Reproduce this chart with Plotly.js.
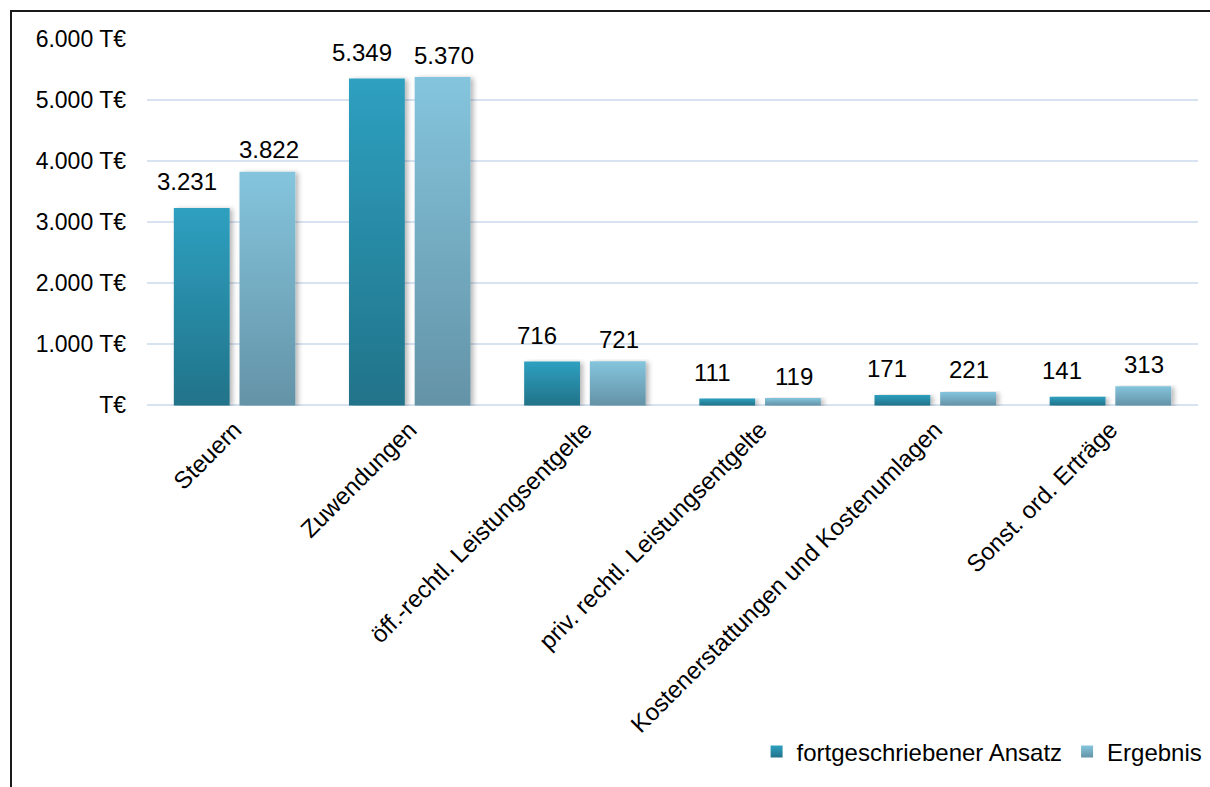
<!DOCTYPE html>
<html>
<head>
<meta charset="utf-8">
<script src="https://cdn.plot.ly/plotly-3.0.1.min.js"></script>
<style>
  html, body { margin: 0; padding: 0; background: #ffffff; }
  #wrap { position: relative; width: 1210px; height: 787px; overflow: hidden; }
  #chart { position: absolute; left: 0; top: 0; width: 1210px; height: 787px; }
  #frame { position: absolute; left: 10px; top: 10px; width: 1300px; height: 900px;
           border-left: 2px solid #1a1a1a; border-top: 2px solid #1a1a1a; pointer-events: none; }
</style>
</head>
<body>
<div id="wrap">
  <div id="chart"></div>
  <div id="frame"></div>
</div>
<script>
// ---- data ----
const categories = [
  'Steuern',
  'Zuwendungen',
  'öff.-rechtl. Leistungsentgelte',
  'priv. rechtl. Leistungsentgelte',
  'Kostenerstattungen und Kostenumlagen',
  'Sonst. ord. Erträge'
];
const seriesNames = ['fortgeschriebener Ansatz', 'Ergebnis'];
const ansatz   = [3231, 5349, 716, 111, 171, 141];
const ergebnis = [3822, 5370, 721, 119, 221, 313];
const tickVals = [0, 1000, 2000, 3000, 4000, 5000, 6000];
const tickText = ['T€', '1.000 T€', '2.000 T€', '3.000 T€', '4.000 T€', '5.000 T€', '6.000 T€'];

// ---- styling ----
const FONT = 'Liberation Sans, Arial, Helvetica, sans-serif';
const gradStops = [
  ['#2EA0C0', '#217389'],
  ['#84C5DD', '#6493A7']
];
const flatColors = ['#2888A4', '#73ADC3'];

function fmt(v) {
  return String(v).replace(/\B(?=(\d{3})+(?!\d))/g, '.');
}

const seriesValues = [ansatz, ergebnis];
const traces = seriesValues.map((vals, k) => ({
  type: 'bar',
  name: seriesNames[k],
  x: categories,
  y: vals,
  marker: { color: flatColors[k], line: { width: 0 } },
  hoverinfo: 'skip'
}));

// label offsets relative to category centre (bars sit at about -33 / +33 px)
const xShifts = [-48, 34];
const yShifts = [26, 22];
const annotations = [];
seriesValues.forEach((vals, k) => {
  vals.forEach((v, i) => {
    annotations.push({
      x: categories[i], y: v, xref: 'x', yref: 'y',
      text: fmt(v), showarrow: false,
      xshift: xShifts[k], yshift: yShifts[k], yanchor: 'middle', xanchor: 'center',
      font: { family: FONT, size: 24, color: '#000000' }
    });
  });
});

const layout = {
  width: 1210, height: 787,
  margin: { l: 147, r: 12, t: 38, b: 381 },
  paper_bgcolor: 'rgba(0,0,0,0)',
  plot_bgcolor: 'rgba(0,0,0,0)',
  font: { family: FONT, size: 24, color: '#000000' },
  barmode: 'group',
  bargap: 0.25,
  bargroupgap: 0.15,
  showlegend: true,
  legend: {
    orientation: 'h', xref: 'container', yref: 'container',
    x: 0.998, xanchor: 'right', y: 0.0445, yanchor: 'middle',
    font: { family: FONT, size: 24, color: '#000000' },
    bgcolor: 'rgba(0,0,0,0)', traceorder: 'normal', borderwidth: 0
  },
  xaxis: {
    type: 'category', tickangle: -45, showgrid: false, showline: false,
    zeroline: false, ticks: '', automargin: false, ticklabelstandoff: 4,
    tickfont: { family: FONT, size: 24, color: '#000000' }
  },
  yaxis: {
    range: [-10, 6010], tickmode: 'array', tickvals: tickVals, ticktext: tickText,
    showgrid: true, gridcolor: '#D7E3F1', gridwidth: 2,
    zeroline: true, zerolinecolor: '#D7E3F1', zerolinewidth: 2,
    showline: false, ticks: '', ticklabelstandoff: 20, automargin: false,
    tickfont: { family: FONT, size: 23, color: '#000000' }
  },
  annotations: annotations
};

const gd = document.getElementById('chart');
Plotly.newPlot(gd, traces, layout, { staticPlot: true, displayModeBar: false }).then(() => {
  const svg = gd.querySelector('svg.main-svg');
  const NS = 'http://www.w3.org/2000/svg';
  const defs = document.createElementNS(NS, 'defs');
  gradStops.forEach((pair, k) => {
    const g = document.createElementNS(NS, 'linearGradient');
    g.setAttribute('id', 'barGrad' + k);
    g.setAttribute('x1', '0'); g.setAttribute('y1', '0');
    g.setAttribute('x2', '0'); g.setAttribute('y2', '1');
    [[0, pair[0]], [1, pair[1]]].forEach(([off, col]) => {
      const s = document.createElementNS(NS, 'stop');
      s.setAttribute('offset', off);
      s.setAttribute('stop-color', col);
      g.appendChild(s);
    });
    defs.appendChild(g);
  });
  const f = document.createElementNS(NS, 'filter');
  f.setAttribute('id', 'barShadow');
  f.setAttribute('x', '-20%'); f.setAttribute('y', '-5%');
  f.setAttribute('width', '150%'); f.setAttribute('height', '115%');
  const ds = document.createElementNS(NS, 'feDropShadow');
  ds.setAttribute('dx', '3'); ds.setAttribute('dy', '1');
  ds.setAttribute('stdDeviation', '2.5');
  ds.setAttribute('flood-color', '#000'); ds.setAttribute('flood-opacity', '0.28');
  f.appendChild(ds);
  defs.appendChild(f);
  svg.insertBefore(defs, svg.firstChild);

  gd.querySelectorAll('.barlayer .trace').forEach((tr, k) => {
    tr.querySelectorAll('path').forEach(p => {
      p.style.fill = 'url(#barGrad' + k + ')';
      p.style.filter = 'url(#barShadow)';
    });
  });
  gd.querySelectorAll('.legend .traces').forEach((tr, k) => {
    tr.querySelectorAll('.legendpoints path').forEach(p => {
      p.style.fill = 'url(#barGrad' + k + ')';
    });
  });
});
</script>
</body>
</html>
